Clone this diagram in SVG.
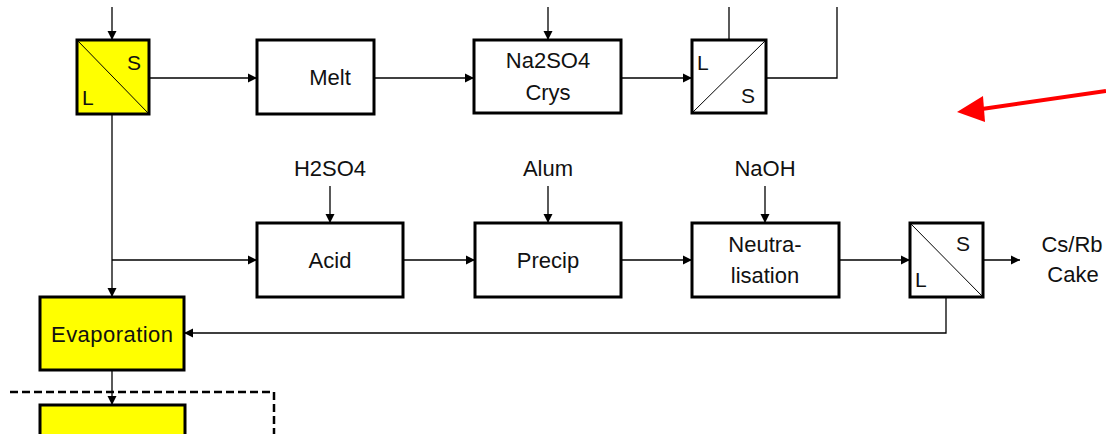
<svg xmlns="http://www.w3.org/2000/svg" width="1106" height="434" viewBox="0 0 1106 434">
<style>
.box{fill:#fff;stroke:#000;stroke-width:3}
.yel{fill:#ffff00;stroke:#000;stroke-width:3}
.ln{fill:none;stroke:#000;stroke-width:1.3}
.dg{stroke:#000;stroke-width:1}
.t{font-family:"Liberation Sans",Arial,sans-serif;font-size:22px;fill:#111;text-anchor:middle}
.s{font-family:"Liberation Sans",Arial,sans-serif;font-size:21px;fill:#111}
</style>
<defs>
<marker id="ah" viewBox="0 0 10 10" refX="10" refY="5" markerWidth="9" markerHeight="12" markerUnits="userSpaceOnUse" orient="auto">
<path d="M0,0 L10,5 L0,10 Z" fill="#000"/>
</marker>
</defs>
<rect width="1106" height="434" fill="#fff"/>
<g id="connectors">
<path class="ln" d="M112,7 V40" marker-end="url(#ah)"/>
<path class="ln" d="M149,78 H257" marker-end="url(#ah)"/>
<path class="ln" d="M374,78 H474" marker-end="url(#ah)"/>
<path class="ln" d="M548,7 V40" marker-end="url(#ah)"/>
<path class="ln" d="M621,78 H692" marker-end="url(#ah)"/>
<path class="ln" d="M729,40 V7"/>
<path class="ln" d="M766,78 H837 V7"/>
<path class="ln" d="M112,114 V297" marker-end="url(#ah)"/>
<path class="ln" d="M112,260 H257" marker-end="url(#ah)"/>
<path class="ln" d="M403,260 H475" marker-end="url(#ah)"/>
<path class="ln" d="M621,260 H692" marker-end="url(#ah)"/>
<path class="ln" d="M839,260 H910" marker-end="url(#ah)"/>
<path class="ln" d="M983,260 H1020" marker-end="url(#ah)"/>
<path class="ln" d="M330,186 V223" marker-end="url(#ah)"/>
<path class="ln" d="M548,186 V223" marker-end="url(#ah)"/>
<path class="ln" d="M765,186 V223" marker-end="url(#ah)"/>
<path class="ln" d="M946,297 V333 H184" marker-end="url(#ah)"/>
<path class="ln" d="M112,370 V405" marker-end="url(#ah)"/>
</g>
<g id="sep1">
<rect class="yel" x="77" y="40" width="72" height="74"/>
<line class="dg" x1="77" y1="40" x2="149" y2="114"/>
<text class="s" x="127" y="70">S</text>
<text class="s" x="82" y="105">L</text>
</g>
<g id="melt">
<rect class="box" x="257" y="40" width="117" height="74"/>
<text class="t" x="330" y="85">Melt</text>
</g>
<g id="na2so4">
<rect class="box" x="474" y="40" width="147" height="73"/>
<text class="t" x="548" y="68">Na2SO4</text>
<text class="t" x="548" y="100">Crys</text>
</g>
<g id="sep2">
<rect class="box" x="692" y="40" width="74" height="73"/>
<line class="dg" x1="692" y1="113" x2="766" y2="40"/>
<text class="s" x="697" y="70">L</text>
<text class="s" x="741" y="103">S</text>
</g>
<g id="acid">
<rect class="box" x="257" y="223" width="146" height="74"/>
<text class="t" x="330" y="268">Acid</text>
</g>
<g id="precip">
<rect class="box" x="475" y="223" width="146" height="74"/>
<text class="t" x="548" y="268">Precip</text>
</g>
<g id="neutra">
<rect class="box" x="692" y="223" width="147" height="74"/>
<text class="t" x="765" y="252">Neutra-</text>
<text class="t" x="765" y="283">lisation</text>
</g>
<g id="sep3">
<rect class="box" x="910" y="223" width="73" height="74"/>
<line class="dg" x1="910" y1="223" x2="983" y2="297"/>
<text class="s" x="956" y="251">S</text>
<text class="s" x="915" y="287">L</text>
</g>
<g id="labels">
<text class="t" x="330" y="176">H2SO4</text>
<text class="t" x="548" y="176">Alum</text>
<text class="t" x="765" y="176">NaOH</text>
<text class="t" x="1072" y="252">Cs/Rb</text>
<text class="t" x="1073" y="282">Cake</text>
</g>
<g id="evaporation">
<rect class="yel" x="40" y="297" width="144" height="73"/>
<text class="t" x="112" y="342" textLength="122" lengthAdjust="spacing">Evaporation</text>
</g>
<g id="dashed">
<path d="M10,392 H274 V434" fill="none" stroke="#000" stroke-width="2.5" stroke-dasharray="8,4"/>
</g>
<g id="next">
<rect class="yel" x="40" y="405" width="145" height="40"/>
</g>
<g id="red-arrow">
<line x1="1106" y1="91" x2="975" y2="110" stroke="#ff0000" stroke-width="4"/>
<path d="M957,112 L983,96 L985,122 Z" fill="#ff0000"/>
</g>
</svg>
